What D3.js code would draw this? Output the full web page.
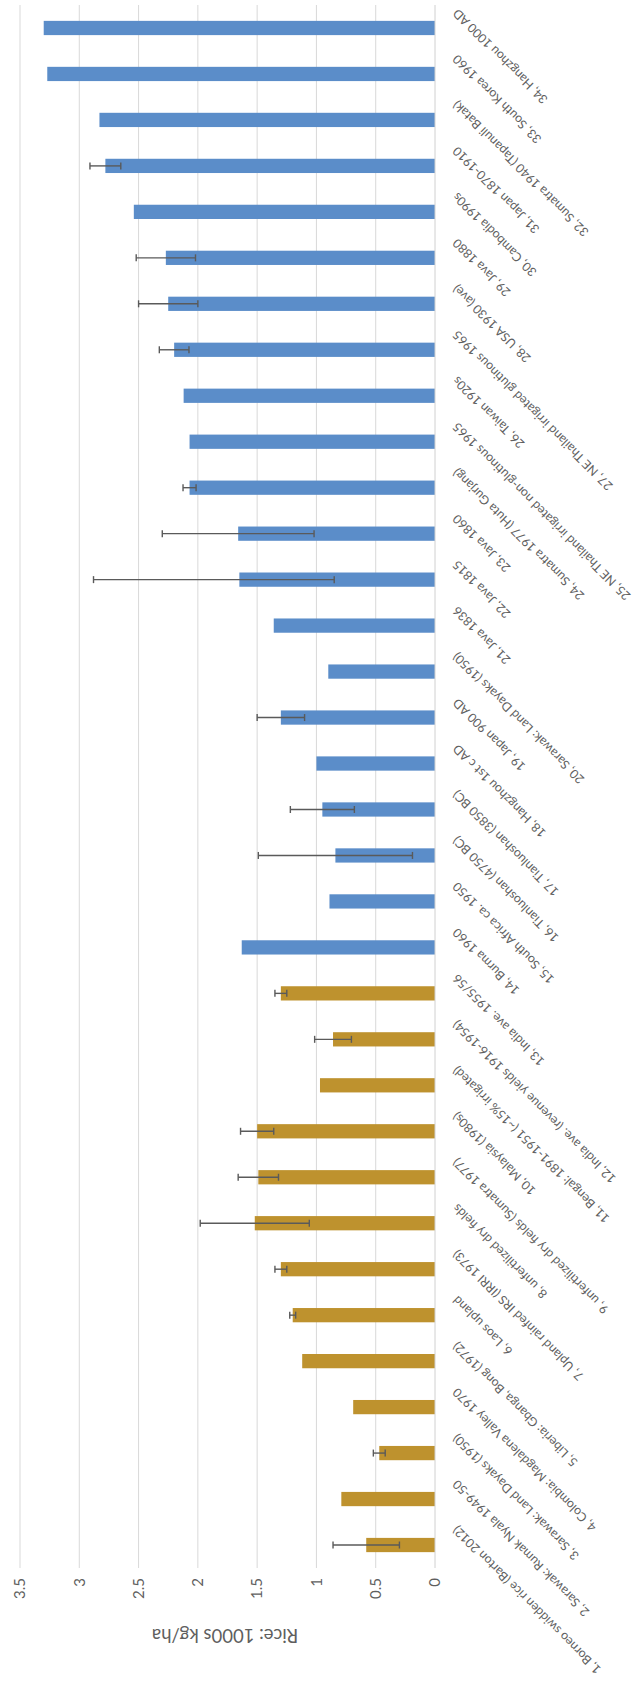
<!DOCTYPE html>
<html>
<head>
<meta charset="utf-8">
<script src="https://cdn.jsdelivr.net/npm/d3@7"></script>
<style>
  html, body { margin: 0; padding: 0; background: #ffffff; }
  svg { display: block; }
</style>
</head>
<body>
<div id="chart"></div>
<script>
// Rice yields by site, 1000s kg/ha (mean, with reported low/high where known)
const categories = [
  "1, Borneo swidden rice (Barton 2012)",
  "2, Sarawak: Rumak Nyala 1949-50",
  "3, Sarawak: Land Dayaks (1950)",
  "4, Colombia: Magdalena Valley 1970",
  "5, Liberia: Gbanga, Bong (1972)",
  "6, Laos upland",
  "7, Upland rainfed IRS (IRRI 1973)",
  "8, unfertilized dry fields",
  "9, unfertilized dry fields (Sumatra 1977)",
  "10, Malaysia (1980s)",
  "11, Bengal: 1891-1951 (~15% irrigated)",
  "12, India ave. (revenue yields 1916-1954)",
  "13, India ave. 1955/56",
  "14, Burma 1960",
  "15, South Africa ca. 1950",
  "16, Tianluoshan (4750 BC)",
  "17, Tianluoshan (3850 BC)",
  "18, Hangzhou 1st c AD",
  "19, Japan 900 AD",
  "20, Sarawak: Land Dayaks (1950)",
  "21, Java 1836",
  "22, Java 1815",
  "23, Java 1860",
  "24, Sumatra 1977 (Huta Gurjang)",
  "25, NE Thailand irrigated non-glutinous 1965",
  "26, Taiwan 1920s",
  "27, NE Thailand irrigated glutinous 1965",
  "28, USA 1930 (ave)",
  "29, Java 1880",
  "30, Cambodia 1990s",
  "31, Japan 1870-1910",
  "32, Sumatra 1940 (Tapanuli Batak)",
  "33, South Korea 1960",
  "34, Hangzhou 1000 AD"
];

const yields = [
  0.58, 0.79, 0.47, 0.69, 1.12, 1.20, 1.30, 1.52, 1.49, 1.50,
  0.97, 0.86, 1.30, 1.63, 0.89, 0.84, 0.95, 1.00, 1.30, 0.90,
  1.36, 1.65, 1.66, 2.07, 2.07, 2.12, 2.20, 2.25, 2.27, 2.54,
  2.78, 2.83, 3.27, 3.30
];

// low / high ends of the reported range (null = single value)
const rangeLow = [
  0.30, null, 0.42, null, null, 1.175, 1.25, 1.06, 1.32, 1.36,
  null, 0.705, 1.25, null, null, 0.19, 0.68, null, 1.10, null,
  null, 0.85, 1.02, 2.015, null, null, 2.075, 2.00, 2.02, null,
  2.65, null, null, null
];
const rangeHigh = [
  0.86, null, 0.52, null, null, 1.225, 1.35, 1.98, 1.66, 1.64,
  null, 1.015, 1.35, null, null, 1.49, 1.22, null, 1.50, null,
  null, 2.88, 2.30, 2.125, null, null, 2.325, 2.50, 2.52, null,
  2.91, null, null, null
];

// first 13 sites are drawn in gold, the rest in blue
const groups = categories.map((c, i) => i < 13 ? "upland" : "wet");
const groupColors = { upland: "#BE922E", wet: "#5B8DC9" };

const valueTicks = [0, 0.5, 1, 1.5, 2, 2.5, 3, 3.5];
const axisTitle = "Rice: 1000s kg/ha";

// The chart is laid out as a column chart and then turned
// a quarter turn counter-clockwise onto the tall page.
const pageW = 642, pageH = 1682;

const svg = d3.select("#chart").append("svg")
  .attr("width", pageW).attr("height", pageH)
  .attr("viewBox", `0 0 ${pageW} ${pageH}`);

svg.append("rect").attr("width", pageW).attr("height", pageH).attr("fill", "#fff");

const g = svg.append("g").attr("transform", `translate(0,${pageH}) rotate(-90)`);

const plot = { left: 114, right: 1677, top: 20, bottom: 435 };

const x = d3.scaleBand()
  .domain(categories)
  .range([plot.left, plot.right])
  .paddingInner(0.69)
  .paddingOuter(0.345);

const y = d3.scaleLinear().domain([0, 3.5]).range([plot.bottom, plot.top]);

const font = "Lato, 'Open Sans', sans-serif";
const textColor = "#5f5f5f";

// gridlines
g.append("g").selectAll("line")
  .data(valueTicks.filter(t => t > 0))
  .join("line")
  .attr("x1", plot.left).attr("x2", plot.right)
  .attr("y1", d => y(d)).attr("y2", d => y(d))
  .attr("stroke", "#d9d9d9").attr("stroke-width", 1);

// value axis labels
const yAxis = d3.axisLeft(y).tickValues(valueTicks).tickSize(0).tickPadding(10)
  .tickFormat(d => String(d));
const yAxisG = g.append("g").attr("transform", `translate(${plot.left},0)`).call(yAxis);
yAxisG.select(".domain").remove();
yAxisG.selectAll("text")
  .attr("fill", textColor)
  .style("font-family", font)
  .style("font-size", "15px");

// axis title
g.append("text")
  .attr("transform", `translate(48,225) rotate(-90)`)
  .attr("text-anchor", "middle")
  .attr("dominant-baseline", "middle")
  .attr("fill", textColor)
  .style("font-family", font)
  .style("font-size", "18.5px")
  .text(axisTitle);

// bars
g.append("g").selectAll("rect")
  .data(categories)
  .join("rect")
  .attr("x", d => x(d))
  .attr("width", x.bandwidth())
  .attr("y", (d, i) => y(yields[i]))
  .attr("height", (d, i) => y(0) - y(yields[i]))
  .attr("fill", (d, i) => groupColors[groups[i]]);

// category axis line
g.append("line")
  .attr("x1", plot.left).attr("x2", plot.right)
  .attr("y1", y(0)).attr("y2", y(0))
  .attr("stroke", "#d0d0d0").attr("stroke-width", 1);

// range whiskers
const cap = 3.5;
const errG = g.append("g").attr("stroke", "#5a5a5a").attr("stroke-width", 1.4);
categories.forEach((c, i) => {
  if (rangeLow[i] == null) return;
  const cx = x(c) + x.bandwidth() / 2;
  const lo = y(rangeLow[i]);
  const hi = y(rangeHigh[i]);
  errG.append("line").attr("x1", cx).attr("x2", cx).attr("y1", lo).attr("y2", hi);
  errG.append("line").attr("x1", cx - cap).attr("x2", cx + cap).attr("y1", lo).attr("y2", lo);
  errG.append("line").attr("x1", cx - cap).attr("x2", cx + cap).attr("y1", hi).attr("y2", hi);
});

// category labels, slanted
g.append("g").selectAll("text")
  .data(categories)
  .join("text")
  .attr("transform", d => `translate(${x(d) + x.bandwidth() / 2 + 20},${plot.bottom + 23}) rotate(-45)`)
  .attr("text-anchor", "end")
  .attr("fill", textColor)
  .style("font-family", font)
  .style("font-size", "12.4px")
  .text(d => d);
</script>
</body>
</html>
